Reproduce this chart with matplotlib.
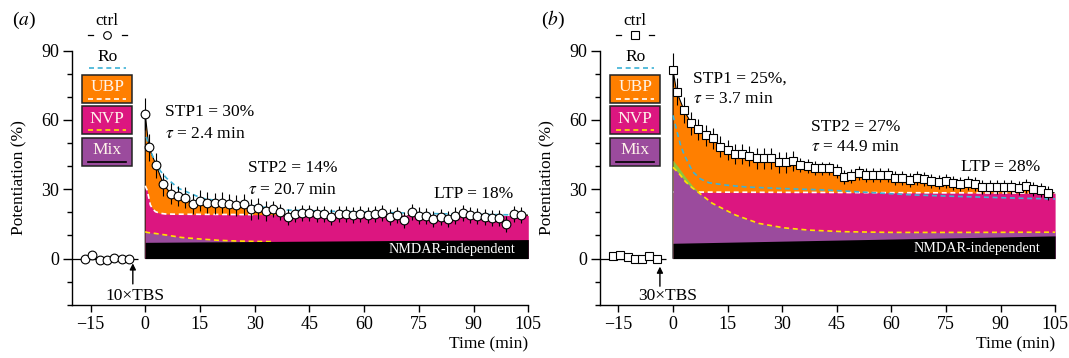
import matplotlib.pyplot as plt
import numpy as np
from matplotlib.patches import Rectangle
from matplotlib.ticker import MultipleLocator

plt.rcParams['font.family'] = ['Liberation Serif', 'DejaVu Serif']
plt.rcParams['mathtext.fontset'] = 'stix'

ORANGE = '#ff7f00'
MAGENTA = '#dc1680'
PURPLE = '#9b4b9d'
CYAN = '#3cb2d6'
YELLOW = '#ffe200'
GREEN = '#8dc63f'
DASH = (0, (3, 2.2))
MS = 6.3

# time points (min)
pre_t = [-16.5, -14.5, -12.5, -10.5, -8.5, -6.5, -4.5]
post_t = [0] + list(range(1, 104, 2))

# ---- panel (a): 10xTBS ----
a_pre = [0.0, 1.4, -0.7, -0.7, 0.3, 0.0, -0.4]
a_post = [62.6, 48.1, 40.4, 32.1, 28.1, 27.1, 26.3, 23.6, 25.0, 24.1, 23.9,
          24.1, 23.4, 23.1, 23.4, 21.3, 21.7, 20.6, 21.4, 20.0, 17.9, 19.3,
          19.7, 19.7, 19.3, 19.3, 17.9,
          19.3, 19.3, 18.8, 19.3, 18.8, 19.3, 19.8, 18.1, 18.8, 16.7, 20.3,
          18.6, 18.4, 17.0, 18.1, 17.0, 18.6, 19.6, 18.8, 18.4, 17.8, 17.4,
          17.4, 15.0, 19.3, 18.8]
a_err = [7.0, 6.0, 5.5, 5.0] + [4.5] * 14 + [3.5] * 35
a_ro_t = [0.3, 1.2, 2.7, 4.2, 5.9, 9.1, 15.5, 24.6, 38.3, 55, 80, 105]
a_ro_v = [52.7, 47.5, 41.9, 37.8, 34.7, 30.4, 26.1, 23.9, 21.0, 20.3, 19.4, 18.8]
a_ubp_t = [0, 0.5, 1.0, 1.4, 2.0, 2.8, 4.0, 5.5, 8, 30, 105]
a_ubp_v = [31.5, 29.7, 26.2, 23.2, 21.6, 20.3, 19.6, 19.3, 19.2, 19.0, 18.6]
a_nvp_t = [0, 0.5, 3, 6, 10, 15.5, 20, 24.6, 30, 35]
a_nvp_v = [11.6, 11.3, 10.8, 10.1, 9.1, 8.4, 7.9, 7.6, 7.4, 7.3]
a_ind_t = [0, 105]
a_ind_v = [7.0, 8.2]

# ---- panel (b): 30xTBS ----
b_pre = [1.1, 1.7, 0.7, 0.0, -0.3, 1.1, -0.3]
b_post = [81.6, 72.3, 64.3, 58.6, 56.0, 53.4, 52.0, 48.4, 47.0, 45.3, 45.3,
          44.4, 43.4, 43.4, 43.4, 41.6, 41.6, 42.2, 40.4, 40.1, 39.3, 39.0,
          39.0, 37.9, 35.4, 35.6, 36.9,
          36.1, 36.1, 36.1, 36.1, 35.0, 35.0, 34.0, 34.7, 34.4, 33.6, 33.3,
          33.6, 32.6, 32.3, 32.6, 32.3, 31.1, 31.1, 31.1, 30.9, 30.9, 30.7,
          31.4, 30.0, 29.5, 28.5]
b_err = [7.5, 6.0, 5.5, 5.0] + [4.5] * 14 + [3.0] * 35
b_ro_t = [0, 1, 2, 3.1, 5.4, 7.5, 9.9, 14.5, 20, 30, 41.8, 55, 66.4, 80, 95.6, 105]
b_ro_v = [62.0, 55.5, 49.5, 44.8, 37.6, 34.5, 32.8, 31.8, 31.0, 30.3, 29.7,
          28.5, 27.5, 26.8, 26.1, 25.8]
b_ubp_t = [0, 105]
b_ubp_v = [28.8, 28.3]
b_green_t = [0, 1.6, 3.4, 5.2, 7]
b_green_v = [42.5, 39.3, 35.3, 31.8, 28.8]
b_nvp_t = [0, 1.6, 3.4, 5.2, 7, 10.8, 17.2, 23.6, 30.4, 37.3, 47.3, 60, 80, 105]
b_nvp_v = [39.5, 36.9, 33.3, 30.7, 28.6, 23.9, 18.8, 15.2, 13.3, 12.3, 11.6,
           11.3, 11.3, 11.4]
b_ind_t = [0, 105]
b_ind_v = [6.6, 9.8]


def draw_key(ax, marker):
    cx = -10.4
    ax.text(cx, 103, 'ctrl', ha='center', va='center', fontsize=12.5)
    for seg in ([cx - 5.3, cx - 3.9], [cx + 3.9, cx + 5.3]):
        ax.plot(seg, [97, 97], color='black', lw=0.9, clip_on=False)
    ax.plot([cx], [97], marker, ms=MS - 0.8, mfc='white', mec='black',
            mew=0.8, clip_on=False)
    ax.text(cx, 87.4, 'Ro', ha='center', va='center', fontsize=12.5)
    ax.plot([cx - 5.1, cx + 5.1], [82.3, 82.3], color=CYAN, lw=1.2, ls=DASH)
    boxes = [('UBP', ORANGE, 67.4, 'white', DASH),
             ('NVP', MAGENTA, 53.9, YELLOW, DASH),
             ('Mix', PURPLE, 40.2, 'black', '-')]
    for name, col, y0, lcol, ls in boxes:
        ax.add_patch(Rectangle((cx - 6.9, y0), 13.8, 12.0, facecolor=col,
                               edgecolor='#222222', lw=1.1, zorder=3))
        ax.text(cx, y0 + 6.7, name, ha='center', va='center', fontsize=12.5,
                color='#fff4ea', zorder=4)
        ax.plot([cx - 5.2, cx + 5.2], [y0 + 1.8, y0 + 1.8], color=lcol,
                lw=1.2, ls=ls, zorder=4)


def draw_panel(ax, pre_v, post_v, err, ro_t, ro_v, ubp_t, ubp_v, ubp_end,
               nvp_t, nvp_v, ind_t, ind_v, marker, green=None):
    xs = [0] + post_t + [105, 105]
    ys = [0] + post_v + [post_v[-1], 0]
    ax.fill(xs, ys, facecolor=ORANGE, edgecolor='black', lw=0.8, zorder=2)
    ax.fill_between(ubp_t, 0, ubp_v, color=MAGENTA, lw=0, zorder=3)
    ut = np.array(ubp_t)
    keep = ut <= ubp_end
    ax.plot(ut[keep], np.array(ubp_v)[keep], color='white', lw=1.2, ls=DASH,
            zorder=4)
    if green is not None:
        ax.fill_between(green[0], 0, green[1], color=GREEN, lw=0, zorder=4.5)
    ax.fill_between(nvp_t, 0, nvp_v, color=PURPLE, lw=0, zorder=5)
    ax.plot(nvp_t, nvp_v, color=YELLOW, lw=1.2, ls=DASH, zorder=6)
    ax.fill_between(ind_t, 0, ind_v, color='black', lw=0, zorder=7)
    ax.plot(ro_t, ro_v, color=CYAN, lw=1.2, ls=DASH, zorder=8)

    ax.errorbar(post_t, post_v, yerr=err, fmt='none', ecolor='black',
                elinewidth=0.8, zorder=9)
    ax.plot(post_t, post_v, marker, ms=MS, mfc='white', mec='black',
            mew=0.8, ls='none', zorder=10)
    ax.hlines(0, -20, -2, color='black', lw=0.9, zorder=9, clip_on=False)
    ax.plot(pre_t, pre_v, marker, ms=MS, mfc='white', mec='black',
            mew=0.8, ls='none', zorder=10, clip_on=False)

    ax.set_xlim(-20, 105)
    ax.set_ylim(-20, 90)
    ax.set_xticks(range(-15, 106, 15))
    ax.set_yticks([0, 30, 60, 90])
    ax.yaxis.set_minor_locator(MultipleLocator(10))
    ax.tick_params(axis='both', labelsize=13, width=1.0, direction='out')
    ax.tick_params(axis='x', length=5, pad=3)
    ax.tick_params(axis='y', which='major', length=6.5, pad=3)
    ax.tick_params(axis='y', which='minor', length=3.5, width=1.0)
    for side in ('top', 'right'):
        ax.spines[side].set_visible(False)
    for side in ('left', 'bottom'):
        ax.spines[side].set_linewidth(1.0)
    ax.set_ylabel('Potentiation (%)', fontsize=12.5)
    ax.yaxis.set_label_coords(-0.098, 0.5)
    ax.set_xlabel('Time (min)', fontsize=12.5, ha='right')
    ax.xaxis.set_label_coords(1.0, -0.125)
    draw_key(ax, marker)


fig = plt.figure(figsize=(10.69, 3.58), dpi=100)
ax_a = fig.add_axes([0.0676, 0.1489, 0.4266, 0.7095])
ax_b = fig.add_axes([0.5615, 0.1489, 0.4255, 0.7095])

draw_panel(ax_a, a_pre, a_post, a_err, a_ro_t, a_ro_v, a_ubp_t, a_ubp_v, 30,
           a_nvp_t, a_nvp_v, a_ind_t, a_ind_v, 'o')
draw_panel(ax_b, b_pre, b_post, b_err, b_ro_t, b_ro_v, b_ubp_t, b_ubp_v, 105,
           b_nvp_t, b_nvp_v, b_ind_t, b_ind_v, 's',
           green=(b_green_t, b_green_v))

fs = 12.5
ax_a.text(5.5, 63.4, 'STP1 = 30%', fontsize=fs, va='center')
ax_a.text(5.5, 53.8, r'$\tau$ = 2.4 min', fontsize=fs, va='center')
ax_a.text(28.3, 39.2, 'STP2 = 14%', fontsize=fs, va='center')
ax_a.text(28.3, 29.7, r'$\tau$ = 20.7 min', fontsize=fs, va='center')
ax_a.text(79.2, 27.8, 'LTP = 18%', fontsize=fs, va='center')
ax_a.text(101.5, 3.7, 'NMDAR-independent', fontsize=10.2, color='white',
          ha='right', va='center', zorder=11)

ax_b.text(5.4, 77.8, 'STP1 = 25%,', fontsize=fs, va='center')
ax_b.text(5.4, 68.9, r'$\tau$ = 3.7 min', fontsize=fs, va='center')
ax_b.text(38, 57.0, 'STP2 = 27%', fontsize=fs, va='center')
ax_b.text(38, 48.3, r'$\tau$ = 44.9 min', fontsize=fs, va='center')
ax_b.text(79.2, 39.6, 'LTP = 28%', fontsize=fs, va='center')
ax_b.text(101, 4.4, 'NMDAR-independent', fontsize=10.2, color='white',
          ha='right', va='center', zorder=11)

arrow = dict(arrowstyle='-|>', color='black', lw=1.0, mutation_scale=9,
             shrinkA=0, shrinkB=0)
ax_a.annotate('', xy=(-3.4, -2.1), xytext=(-3.4, -11), arrowprops=arrow)
ax_a.text(-2.8, -16.2, '10×TBS', fontsize=fs, ha='center', va='center')
ax_b.annotate('', xy=(-3.6, -3.5), xytext=(-3.6, -12), arrowprops=arrow)
ax_b.text(-1.5, -16.2, '30×TBS', fontsize=fs, ha='center', va='center')

fig.text(0.0225, 0.944, '($a$)', fontsize=14, ha='center', va='center')
fig.text(0.517, 0.944, '($b$)', fontsize=14, ha='center', va='center')

fig.savefig('out.png', dpi=100)
